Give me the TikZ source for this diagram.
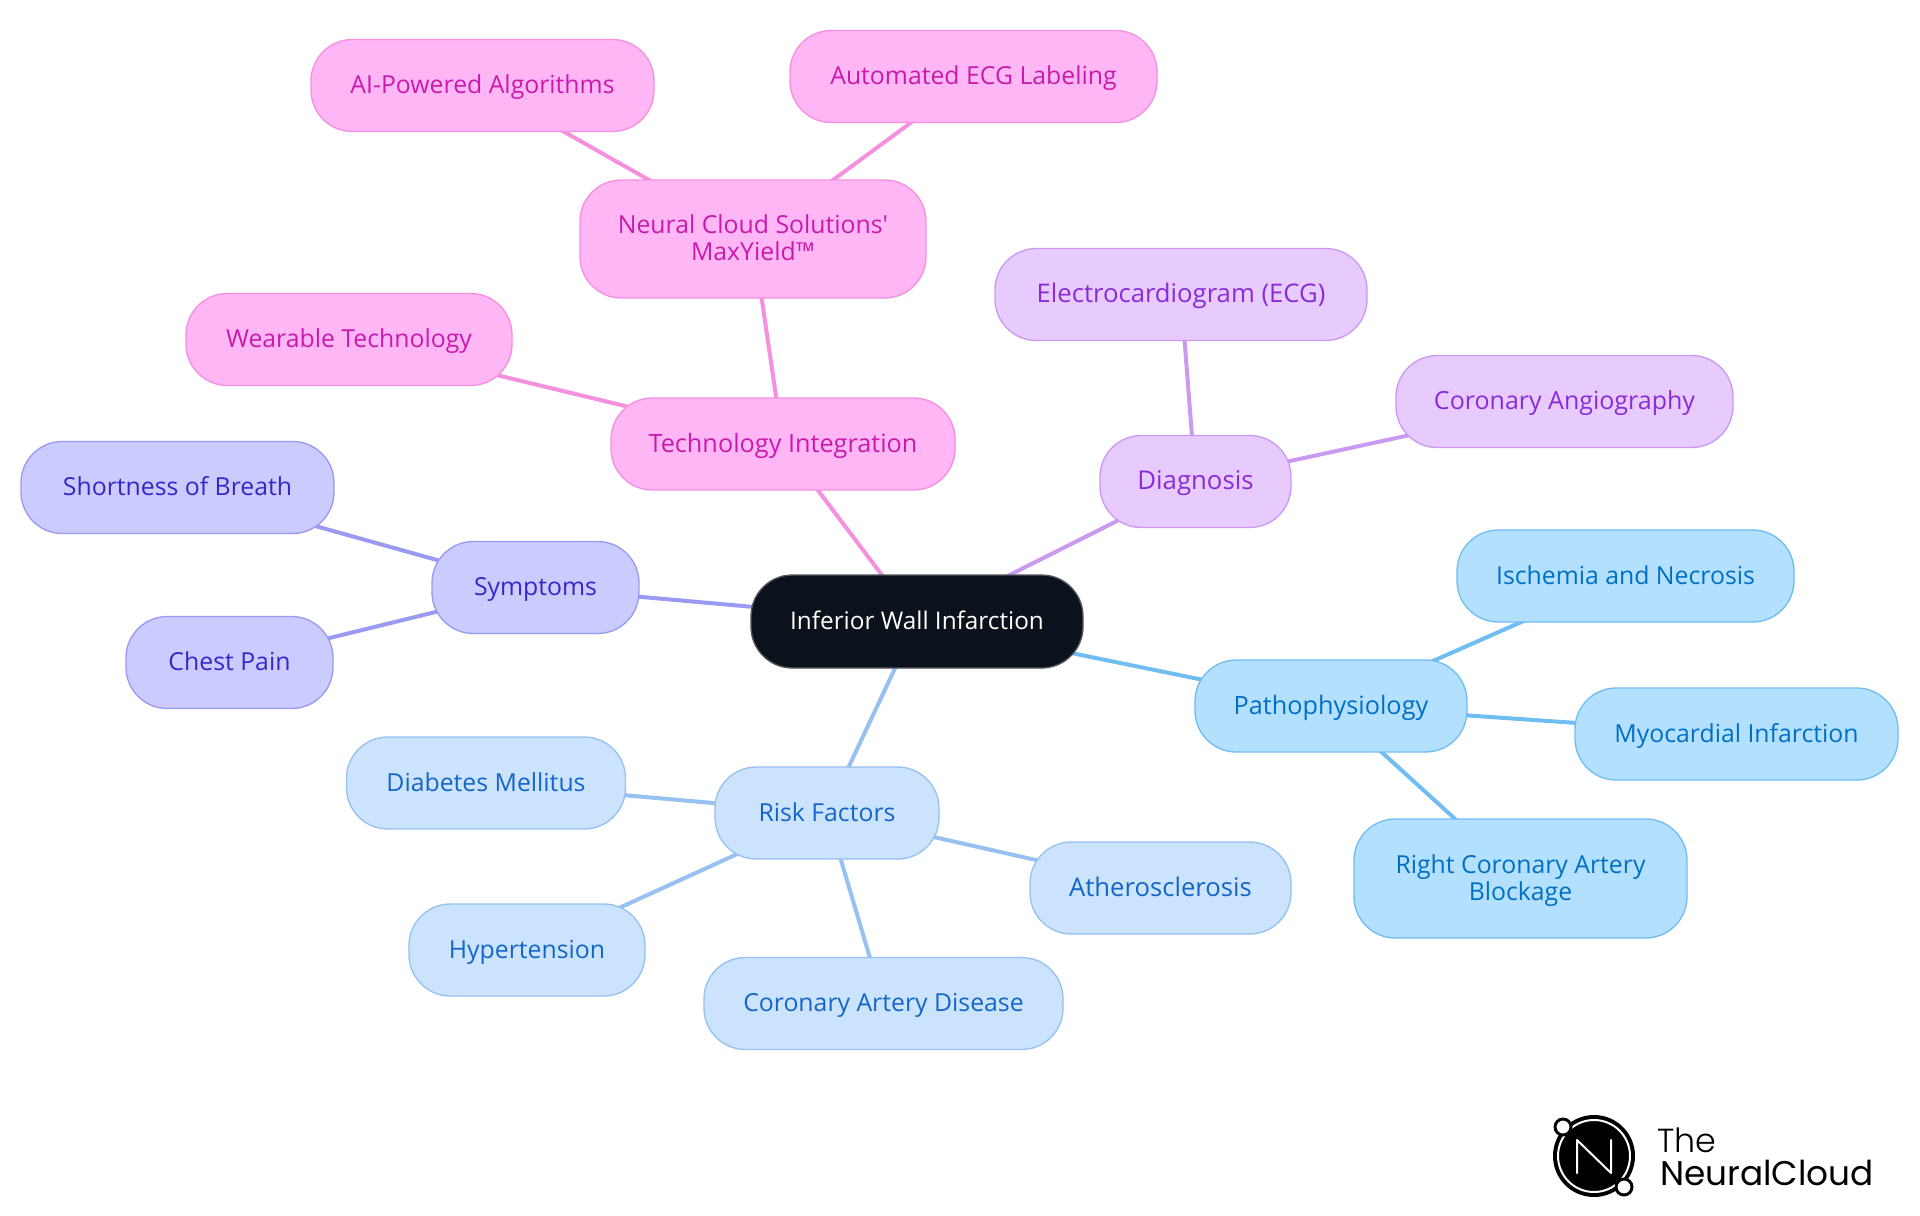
\documentclass[tikz,border=0pt]{standalone}
\usepackage{fontspec}
\newfontfamily\nf{Open Sans}
\newfontfamily\logofont{Poppins}
\newfontfamily\logolight{Poppins Light}
\usetikzlibrary{backgrounds}
\definecolor{cfill}{HTML}{0C121B}\definecolor{cdraw}{HTML}{55585E}
\definecolor{pfill}{HTML}{B3E0FF}\definecolor{pdraw}{HTML}{70BDF2}\definecolor{ptext}{HTML}{0070C4}
\definecolor{rfill}{HTML}{CCE3FD}\definecolor{rdraw}{HTML}{96C1F0}\definecolor{rtext}{HTML}{1466C8}
\definecolor{sfill}{HTML}{CBCBFF}\definecolor{sdraw}{HTML}{9A9AF2}\definecolor{stext}{HTML}{3A26C8}
\definecolor{dfill}{HTML}{E7CBFF}\definecolor{ddraw}{HTML}{C99AF2}\definecolor{dtext}{HTML}{8B2BD8}
\definecolor{tfill}{HTML}{FFB6F5}\definecolor{tdraw}{HTML}{F590E0}\definecolor{ttext}{HTML}{C81BAE}
\tikzset{
  x=0.75pt,y=-0.75pt,
  sz/.style 2 args={minimum width=#1*0.75pt,minimum height=#2*0.75pt},
  box/.style={rounded corners=31pt,line width=1pt,inner sep=0pt,font=\nf\fontsize{18.6pt}{20.2pt}\selectfont},
  fs/.style={font=\nf\fontsize{#1pt}{20.2pt}\selectfont},
  one/.style={text height=12pt,text depth=0pt},
  cbox/.style={box,fill=cfill,draw=cdraw,text=white},
  pbox/.style={box,fill=pfill,draw=pdraw,text=ptext},
  rbox/.style={box,fill=rfill,draw=rdraw,text=rtext},
  sbox/.style={box,fill=sfill,draw=sdraw,text=stext},
  dbox/.style={box,fill=dfill,draw=ddraw,text=dtext},
  tbox/.style={box,fill=tfill,draw=tdraw,text=ttext},
  link/.style={line width=3pt},
}
\begin{document}
\begin{tikzpicture}
\useasboundingbox (0,0) rectangle (1920,1215);
\node[cbox,one,fs=18.25,sz={332}{93}] (c) at (917,621.5) {Inferior Wall Infarction};
\node[pbox,one,fs=18.95,sz={272}{92}] (p) at (1331,706) {Pathophysiology};
\node[pbox,one,sz={337}{92}] (p1) at (1625.5,576) {Ischemia and Necrosis};
\node[pbox,one,sz={323}{92}] (p2) at (1736.5,734) {Myocardial Infarction};
\node[pbox,text height=24pt,text depth=10.5pt,sz={333}{119}] (p3) at (1520.5,878.5) {\begin{tabular}{@{}c@{}}Right Coronary Artery\\Blockage\end{tabular}};
\node[rbox,one,sz={224}{92}] (r) at (827,813) {Risk Factors};
\node[rbox,one,sz={279}{92}] (r1) at (486,783) {Diabetes Mellitus};
\node[rbox,one,sz={236}{92}] (r2) at (527,950) {Hypertension};
\node[rbox,one,sz={359}{92}] (r3) at (883.5,1003.5) {Coronary Artery Disease};
\node[rbox,one,fs=19.25,sz={261}{92}] (r4) at (1160.5,888) {Atherosclerosis};
\node[sbox,one,sz={207}{92}] (s) at (535.5,587.5) {Symptoms};
\node[sbox,one,sz={313}{92}] (s1) at (177.5,487.5) {Shortness of Breath};
\node[sbox,one,sz={207}{92}] (s2) at (229.5,662.5) {Chest Pain};
\node[tbox,one,fs=18.95,sz={344}{92}] (t) at (783,444) {Technology Integration};
\node[tbox,one,sz={326}{92}] (t1) at (349,339.5) {Wearable Technology};
\node[tbox,text height=24pt,text depth=11.5pt,sz={346}{118}] (t2) at (753,239) {\begin{tabular}{@{}c@{}}Neural Cloud Solutions'\\MaxYield™\end{tabular}};
\node[tbox,one,sz={343}{92}] (t3) at (482.5,85.5) {AI-Powered Algorithms};
\node[tbox,one,sz={367}{92}] (t4) at (973.5,76.5) {Automated ECG Labeling};
\node[dbox,one,fs=19.35,sz={191}{92}] (d) at (1195.5,481.5) {Diagnosis};
\node[dbox,one,fs=19.25,sz={372}{92}] (d1) at (1181,294.5) {Electrocardiogram (ECG)};
\node[dbox,one,fs=18.75,sz={337}{92}] (d2) at (1564.5,401.5) {Coronary Angiography};
\begin{scope}[on background layer]
\draw[link,pdraw] (c.center)--(p.center);\draw[link,pdraw] (p.center)--(p1.center);\draw[link,pdraw] (p.center)--(p2.center);\draw[link,pdraw] (p.center)--(p3.center);
\draw[link,rdraw] (c.center)--(r.center);\draw[link,rdraw] (r.center)--(r1.center);\draw[link,rdraw] (r.center)--(r2.center);\draw[link,rdraw] (r.center)--(r3.center);\draw[link,rdraw] (r.center)--(r4.center);
\draw[link,sdraw] (c.center)--(s.center);\draw[link,sdraw] (s.center)--(s1.center);\draw[link,sdraw] (s.center)--(s2.center);
\draw[link,tdraw] (c.center)--(t.center);\draw[link,tdraw] (t.center)--(t1.center);\draw[link,tdraw] (t.center)--(t2.center);\draw[link,tdraw] (t2.center)--(t3.center);\draw[link,tdraw] (t2.center)--(t4.center);
\draw[link,ddraw] (c.center)--(d.center);\draw[link,ddraw] (d.center)--(d1.center);\draw[link,ddraw] (d.center)--(d2.center);
\end{scope}
% logo
\fill[black] (1594,1156) circle[radius=41*0.75pt];
\draw[white,line width=1.5pt] (1594,1156) circle[radius=36*0.75pt];
\draw[white,line width=1.5pt,line join=round,line cap=round] (1577,1173)--(1577,1140)--(1611,1173)--(1611,1140);
\draw[black,fill=white,line width=2.2pt] (1563,1127) circle[radius=8*0.75pt];
\draw[black,fill=white,line width=2.2pt] (1624,1187) circle[radius=8*0.75pt];
\node[anchor=base west,inner sep=0pt,font=\logolight\fontsize{25pt}{25pt}\selectfont] (lt) at (1657,1152) {The};
\node[anchor=base west,inner sep=0pt,font=\logofont\fontsize{25.7pt}{25pt}\selectfont] (ln) at (1660,1185) {NeuralCloud};
\end{tikzpicture}
\end{document}
